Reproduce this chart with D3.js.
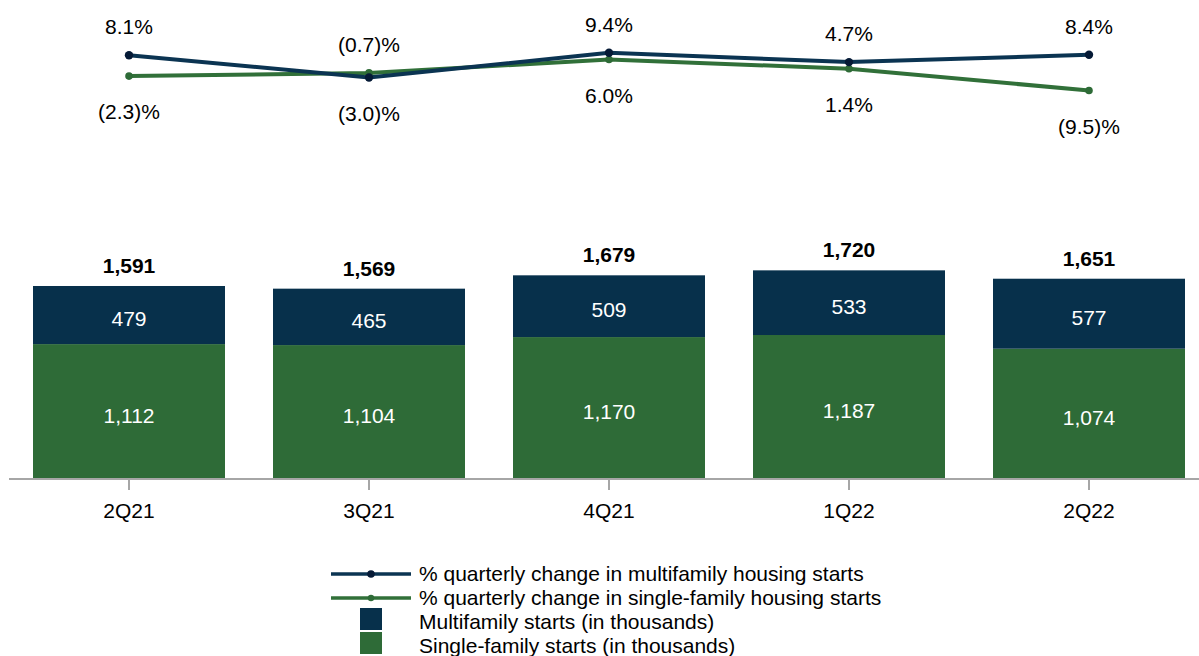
<!DOCTYPE html>
<html>
<head>
<meta charset="utf-8">
<script src="https://cdn.jsdelivr.net/npm/d3@7"></script>
<style>
  body { margin: 0; background: #fff; }
  svg { display: block; font-family: "Liberation Sans", Arial, sans-serif; }
</style>
</head>
<body>
<svg id="chart" width="1199" height="656"></svg>
<script>
// data
var quarters = ["2Q21", "3Q21", "4Q21", "1Q22", "2Q22"];
var multiStarts = [479, 465, 509, 533, 577];
var singleStarts = [1112, 1104, 1170, 1187, 1074];
var totalStarts = [1591, 1569, 1679, 1720, 1651];
var multiChange = [8.1, -3.0, 9.4, 4.7, 8.4];
var singleChange = [-2.3, -0.7, 6.0, 1.4, -9.5];

var legendLabels = [
  "% quarterly change in multifamily housing starts",
  "% quarterly change in single-family housing starts",
  "Multifamily starts (in thousands)",
  "Single-family starts (in thousands)"
];

var navy = "#07304b", green = "#2e6b37";
var navyLine = "#0b3452", navyDot = "#051a36";
var greenLine = "#317039", greenDot = "#2e6b37";
var fs = 21;

var svg = d3.select("#chart");

// scales
var x = d3.scaleBand()
  .domain(quarters)
  .range([9, 1209])
  .paddingInner(0.2)
  .paddingOuter(0.1);

var y = d3.scaleLinear()
  .domain([0, 1720])
  .range([479, 479 - 0.12131 * 1720]);

// percent line scale (shared)
var yp = d3.scaleLinear()
  .domain([-10, 10])
  .range([91.5, 51.5]);

function pct(v) {
  return v < 0 ? "(" + Math.abs(v).toFixed(1) + ")%" : v.toFixed(1) + "%";
}

var rows = quarters.map(function(q, i) {
  return { q: q, mf: multiStarts[i], sf: singleStarts[i], tot: totalStarts[i],
           mfc: multiChange[i], sfc: singleChange[i] };
});

// bars - single family at the bottom
svg.append("g")
  .selectAll("rect")
  .data(rows)
  .enter()
  .append("rect")
    .attr("x", function(d){ return x(d.q) })
    .attr("width", x.bandwidth())
    .attr("y", function(d){ return y(d.sf) })
    .attr("height", function(d){ return y(0) - y(d.sf) })
    .attr("fill", green);

svg.append("g")
  .selectAll("rect")
  .data(rows)
  .enter()
  .append("rect")
    .attr("x", function(d){ return x(d.q) })
    .attr("width", x.bandwidth())
    .attr("y", function(d){ return y(d.sf + d.mf) })
    .attr("height", function(d){ return y(d.sf) - y(d.sf + d.mf) })
    .attr("fill", navy);

// value labels in the bars
var fmt = d3.format(",");
var cx = function(d){ return x(d.q) + x.bandwidth() / 2 };

svg.append("g")
  .selectAll("text")
  .data(rows)
  .enter()
  .append("text")
    .attr("x", cx)
    .attr("y", function(d){ return (y(0) + y(d.sf)) / 2 + 11 })
    .attr("text-anchor", "middle")
    .attr("font-size", fs)
    .attr("fill", "#fff")
    .text(function(d){ return fmt(d.sf) });

svg.append("g")
  .selectAll("text")
  .data(rows)
  .enter()
  .append("text")
    .attr("x", cx)
    .attr("y", function(d){ return (y(d.sf) + y(d.sf + d.mf)) / 2 + 11 })
    .attr("text-anchor", "middle")
    .attr("font-size", fs)
    .attr("fill", "#fff")
    .text(function(d){ return fmt(d.mf) });

// totals
svg.append("g")
  .selectAll("text")
  .data(rows)
  .enter()
  .append("text")
    .attr("x", cx)
    .attr("y", function(d){ return y(d.tot) - 13 })
    .attr("text-anchor", "middle")
    .attr("font-size", fs)
    .attr("font-weight", "bold")
    .attr("fill", "#000")
    .text(function(d){ return fmt(d.tot) });

// x axis
var axis = svg.append("g")
  .attr("transform", "translate(0,479)")
  .call(d3.axisBottom(x).tickSize(11).tickSizeOuter(0).tickPadding(13));
axis.select(".domain").attr("stroke", "#a6a6a6").attr("stroke-width", 2)
  .attr("d", "M9,0H1199");
axis.selectAll(".tick line").attr("stroke", "#a6a6a6").attr("stroke-width", 2);
axis.selectAll(".tick text")
  .attr("font-size", fs)
  .attr("font-family", "Liberation Sans, Arial, sans-serif")
  .attr("fill", "#000");

// lines
var lineMf = d3.line().x(cx).y(function(d){ return yp(d.mfc) });
var lineSf = d3.line().x(cx).y(function(d){ return yp(d.sfc) });

svg.append("path").datum(rows)
  .attr("d", lineSf).attr("fill", "none")
  .attr("stroke", greenLine).attr("stroke-width", 4);
svg.append("path").datum(rows)
  .attr("d", lineMf).attr("fill", "none")
  .attr("stroke", navyLine).attr("stroke-width", 4);

svg.append("g").selectAll("circle").data(rows).enter()
  .append("circle")
    .attr("cx", cx).attr("cy", function(d){ return yp(d.sfc) })
    .attr("r", 3.8).attr("fill", greenDot);
svg.append("g").selectAll("circle").data(rows).enter()
  .append("circle")
    .attr("cx", cx).attr("cy", function(d){ return yp(d.mfc) })
    .attr("r", 4.2).attr("fill", navyDot);

// percent labels: higher point gets label above, lower one below
function labelY(v, other) {
  return v >= other ? yp(v) - 21 : yp(v) + 43;
}
svg.append("g").selectAll("text").data(rows).enter()
  .append("text")
    .attr("x", cx)
    .attr("y", function(d){ return labelY(d.mfc, d.sfc) })
    .attr("text-anchor", "middle")
    .attr("font-size", fs)
    .text(function(d){ return pct(d.mfc) });
svg.append("g").selectAll("text").data(rows).enter()
  .append("text")
    .attr("x", cx)
    .attr("y", function(d){ return labelY(d.sfc, d.mfc) })
    .attr("text-anchor", "middle")
    .attr("font-size", fs)
    .text(function(d){ return pct(d.sfc) });

// legend
var legend = svg.append("g");
var legendY = [574, 598, 619, 643];

legend.append("line").attr("x1", 331).attr("x2", 411).attr("y1", legendY[0]).attr("y2", legendY[0])
  .attr("stroke", navyLine).attr("stroke-width", 3.5);
legend.append("circle").attr("cx", 371).attr("cy", legendY[0]).attr("r", 3.8).attr("fill", navyDot);
legend.append("line").attr("x1", 331).attr("x2", 411).attr("y1", legendY[1]).attr("y2", legendY[1])
  .attr("stroke", greenLine).attr("stroke-width", 3.5);
legend.append("circle").attr("cx", 371).attr("cy", legendY[1]).attr("r", 3.2).attr("fill", greenDot);
legend.append("rect").attr("x", 360).attr("y", legendY[2] - 11).attr("width", 22).attr("height", 22).attr("fill", navy);
legend.append("rect").attr("x", 360).attr("y", legendY[3] - 11).attr("width", 22).attr("height", 22).attr("fill", green);

legend.selectAll("text")
  .data(legendLabels)
  .enter()
  .append("text")
    .attr("x", 419)
    .attr("y", function(d, i){ return 580.5 + i * 24 })
    .attr("font-size", 21)
    .attr("fill", "#000")
    .text(function(d){ return d });
</script>
</body>
</html>
